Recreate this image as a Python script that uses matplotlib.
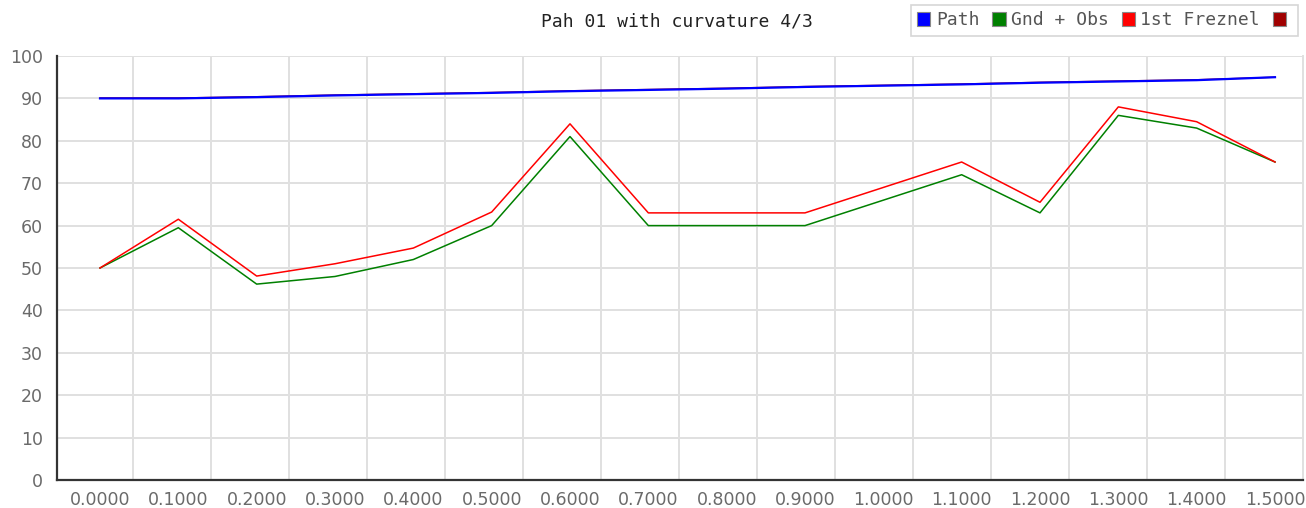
import matplotlib
matplotlib.use("Agg")
import matplotlib.pyplot as plt
from matplotlib.patches import Patch

# ---- data ----
distance = [0.0, 0.1, 0.2, 0.3, 0.4, 0.5, 0.6, 0.7, 0.8, 0.9, 1.0, 1.1, 1.2, 1.3, 1.4, 1.5]
path = [90.0, 90.0, 90.3, 90.7, 91.0, 91.3, 91.7, 92.0, 92.3, 92.7, 93.0, 93.3, 93.7, 94.0, 94.3, 95.0]
gnd_obs = [50, 59.5, 46.2, 48, 52, 60, 81, 60, 60, 60, 66, 72, 63, 86, 83, 75]
fresnel_low = [50, 61.5, 48.1, 51, 54.7, 63.2, 84, 63, 63, 63, 69, 75, 65.5, 88, 84.5, 75]
fresnel_up = [90.1, 90.1, 90.4, 90.8, 91.1, 91.4, 91.8, 92.1, 92.4, 92.8, 93.1, 93.4, 93.8, 94.1, 94.4, 95.0]
x_labels = ["0.0000", "0.1000", "0.2000", "0.3000", "0.4000", "0.5000", "0.6000", "0.7000",
            "0.8000", "0.9000", "1.0000", "1.1000", "1.2000", "1.3000", "1.4000", "1.5000"]
y_ticks = [0, 10, 20, 30, 40, 50, 60, 70, 80, 90, 100]
title = "Pah 01 with curvature 4/3"
labels = ["Path", "Gnd + Obs", "1st Freznel", ""]
colors = ["#0000ff", "#008000", "#ff0000", "#a00000"]

W, H, DPI = 1306, 508, 100
fig = plt.figure(figsize=(W / DPI, H / DPI), dpi=DPI)

# axes placement in pixels
ax_l, ax_r, ax_t, ax_b = 57, 1303, 56, 480
ax = fig.add_axes([ax_l / W, 1 - ax_b / H, (ax_r - ax_l) / W, (ax_b - ax_t) / H])

# x mapping: first point at px 100, last at px 1275
px0, px1 = 100, 1275
scale = (px1 - px0) / (distance[-1] - distance[0])
ax.set_xlim(distance[0] - (px0 - ax_l) / scale, distance[0] + (ax_r - px0) / scale)
ax.set_ylim(0, 100)

# vertical grid lines (offset from points as in reference)
grid_x = [distance[0] + (133 + 78 * k - px0) / scale for k in range(16)]
ax.set_xticks(grid_x, minor=True)
ax.grid(which="minor", axis="x", color="#e0e0e0", lw=1.4)
ax.set_yticks(y_ticks)
ax.grid(which="major", axis="y", color="#e0e0e0", lw=1.4)
ax.set_axisbelow(True)

# series
ax.plot(distance, fresnel_up, color=colors[3], lw=1.0, zorder=3)
ax.plot(distance, path, color=colors[0], lw=1.6, zorder=4)
ax.plot(distance, gnd_obs, color=colors[1], lw=1.1, zorder=3)
ax.plot(distance, fresnel_low, color=colors[2], lw=1.1, zorder=3)

# spines
ax.spines["top"].set_visible(False)
ax.spines["right"].set_color("#e0e0e0")
ax.spines["right"].set_linewidth(1.4)
for s in ["left", "bottom"]:
    ax.spines[s].set_color("#333333")
    ax.spines[s].set_linewidth(1.6)

ax.tick_params(axis="both", which="both", length=0)
ax.tick_params(axis="y", labelsize=12.5, labelcolor="#6a6a6a", pad=10)

ax.set_xticks(distance)
ax.set_xticklabels(x_labels)
ax.tick_params(axis="x", labelsize=12.5, labelcolor="#6a6a6a", pad=8)

# title
fig.text(677 / W, 1 - 22 / H, title, ha="center", va="center",
         fontsize=13, family="DejaVu Sans Mono", color="#222222")

# legend
handles = [Patch(facecolor=c, edgecolor="#888888", lw=0.8) for c in colors]
leg = fig.legend(handles, labels, loc="upper right", ncol=4,
                 bbox_to_anchor=(1298 / W, 1 - 5 / H), bbox_transform=fig.transFigure,
                 prop={"family": "DejaVu Sans Mono", "size": 13},
                 handlelength=0.75, handleheight=0.75, handletextpad=0.3,
                 columnspacing=0.7, borderpad=0.35, frameon=True, fancybox=False,
                 edgecolor="#cccccc", borderaxespad=0)
leg.get_frame().set_linewidth(1.2)
for t in leg.get_texts():
    t.set_color("#555555")

fig.savefig("out.png", dpi=DPI)
